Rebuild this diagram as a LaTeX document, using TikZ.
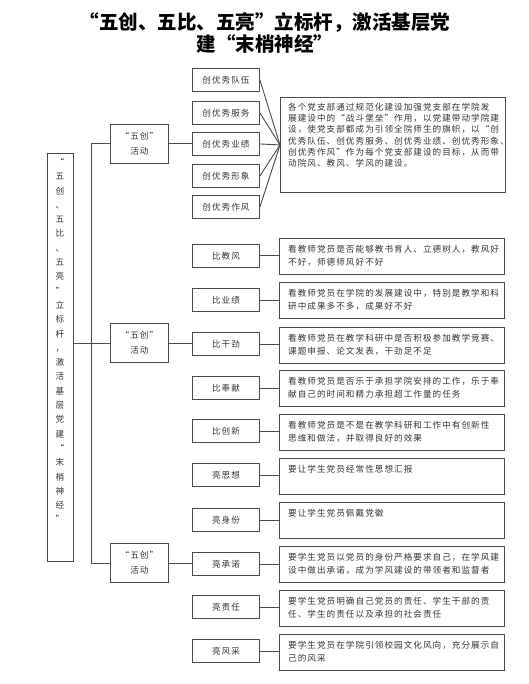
\documentclass[tikz,border=0pt]{standalone}
\usepackage{fontspec}
\newfontfamily\cjk{Noto Sans CJK SC}
\newfontfamily\cjksp[LetterSpace=12]{Noto Sans CJK SC}
\definecolor{ln}{HTML}{4A4A4A}
\definecolor{tx}{HTML}{333333}
\begin{document}
\begin{tikzpicture}[x=1pt,y=-1pt,
  bx/.style={draw=ln, line width=0.9pt, anchor=north west, inner sep=0pt, fill=white},
  cb/.style={bx, minimum width=67pt, minimum height=23pt, font=\cjksp\fontsize{8.6}{10}\selectfont, text=tx},
  db/.style={bx, minimum width=225pt, minimum height=36pt},
  wb/.style={bx, minimum width=58pt, minimum height=39pt, align=center, font=\cjksp\fontsize{8.6}{15}\selectfont, text=tx},
  dt/.style={anchor=north west, inner sep=0pt, align=left, text=tx, font=\cjksp\fontsize{8.6}{13.3}\selectfont},
  cn/.style={draw=ln, line width=0.9pt}]
\useasboundingbox (0,0) rectangle (529,684);
% title
\node[font=\cjk\bfseries\fontsize{19.5}{22.5}\selectfont, align=center] (title) at (265,33) {“五创、五比、五亮”立标杆，激活基层党\\建“末梢神经”};
% left vertical box
\node[bx, minimum width=26pt, minimum height=408pt] (L) at (47,153) {};
\node[anchor=north, inner sep=0pt, align=center, text=tx, font=\cjk\fontsize{8.6}{14.3}\selectfont] (vt) at (60,158) {“\\五\\创\\、\\五\\比\\、\\五\\亮\\”\\立\\标\\杆\\，\\激\\活\\基\\层\\党\\建\\“\\末\\梢\\神\\经\\”};
% wu chuang boxes
\node[wb] (w1) at (110,124) {“五创”\\活动};
\node[wb] (w2) at (110,323) {“五创”\\活动};
\node[wb] (w3) at (110,543) {“五创”\\活动};
\coordinate (sx) at (91,0);
% group 1
\node[cb] (c1) at (192,68) {创优秀队伍};
\node[cb] (c2) at (192,101) {创优秀服务};
\node[cb] (c3) at (192,132) {创优秀业绩};
\node[cb] (c4) at (192,164) {创优秀形象};
\node[cb] (c5) at (192,195) {创优秀作风};
\node[bx, minimum width=225pt, minimum height=95pt] (d1) at (280,97) {};
\node[dt, font=\cjksp\fontsize{8.6}{11.2}\selectfont] (t1) at (288,103) {各个党支部通过规范化建设加强党支部在学院发\\展建设中的“战斗堡垒”作用，以党建带动学院建\\设，使党支部都成为引领全院师生的旗帜，以“创\\优秀队伍、创优秀服务、创优秀业绩、创优秀形象、\\创优秀作风”作为每个党支部建设的目标，从而带\\动院风、教风、学风的建设。};
% group 2
\node[cb] (b1) at (192,244) {比教风};
\node[cb] (b2) at (192,288) {比业绩};
\node[cb] (b3) at (192,332) {比干劲};
\node[cb] (b4) at (192,376) {比奉献};
\node[cb] (b5) at (192,419) {比创新};
\node[db] (e1) at (279,238) {};
\node[db] (e2) at (279,282) {};
\node[db] (e3) at (279,327) {};
\node[db] (e4) at (279,370) {};
\node[db] (e5) at (279,414) {};
\node[dt] (u1) at (288,245) {看教师党员是否能够教书育人、立德树人，教风好\\不好，师德师风好不好};
\node[dt] (u2) at (288,289) {看教师党员在学院的发展建设中，特别是教学和科\\研中成果多不多，成果好不好};
\node[dt] (u3) at (288,334) {看教师党员在教学科研中是否积极参加教学竞赛、\\课题申报、论文发表，干劲足不足};
\node[dt] (u4) at (288,377) {看教师党员是否乐于承担学院安排的工作，乐于奉\\献自己的时间和精力承担超工作量的任务};
\node[dt] (u5) at (288,421) {看教师党员是不是在教学科研和工作中有创新性\\思维和做法，并取得良好的效果};
% group 3
\node[cb] (l1) at (192,463) {亮思想};
\node[cb] (l2) at (192,508) {亮身份};
\node[cb] (l3) at (192,552) {亮承诺};
\node[cb] (l4) at (192,595) {亮责任};
\node[cb] (l5) at (192,639) {亮风采};
\node[db] (f1) at (279,458) {};
\node[db] (f2) at (279,502) {};
\node[db] (f3) at (279,546) {};
\node[db] (f4) at (279,590) {};
\node[db] (f5) at (279,634) {};
\node[dt] (v1) at (288,465) {要让学生党员经常性思想汇报};
\node[dt] (v2) at (288,509) {要让学生党员佩戴党徽};
\node[dt] (v3) at (288,553) {要学生党员以党员的身份严格要求自己，在学风建\\设中做出承诺，成为学风建设的带领者和监督者};
\node[dt] (v4) at (288,597) {要学生党员明确自己党员的责任、学生干部的责\\任、学生的责任以及承担的社会责任};
\node[dt] (v5) at (288,641) {要学生党员在学院引领校园文化风向，充分展示自\\己的风采};
% connectors
\draw[cn] (w1.west -| sx) -- (w3.west -| sx);
\draw[cn] (w1.west -| sx) -- (w1.west);
\draw[cn] (w2.west -| sx) -- (w2.west);
\draw[cn] (w3.west -| sx) -- (w3.west);
\draw[cn] (L.east |- w2.west) -- (w2.west -| sx);
\draw[cn] (w1.east) -- (w1.east -| c3.west);
\draw[cn] (w2.east) -- (w2.east -| b3.west);
\draw[cn] (w3.east) -- (w3.east -| l3.west);
\foreach \c in {c1,c2,c3,c4,c5}{\draw[cn] (\c.east) -- (d1.west);}
\foreach \b/\e in {b1/e1,b2/e2,b3/e3,b4/e4,b5/e5,l1/f1,l2/f2,l3/f3,l4/f4,l5/f5}{\draw[cn] (\b.east) -- (\b.east -| \e.west);}
\end{tikzpicture}
\end{document}
